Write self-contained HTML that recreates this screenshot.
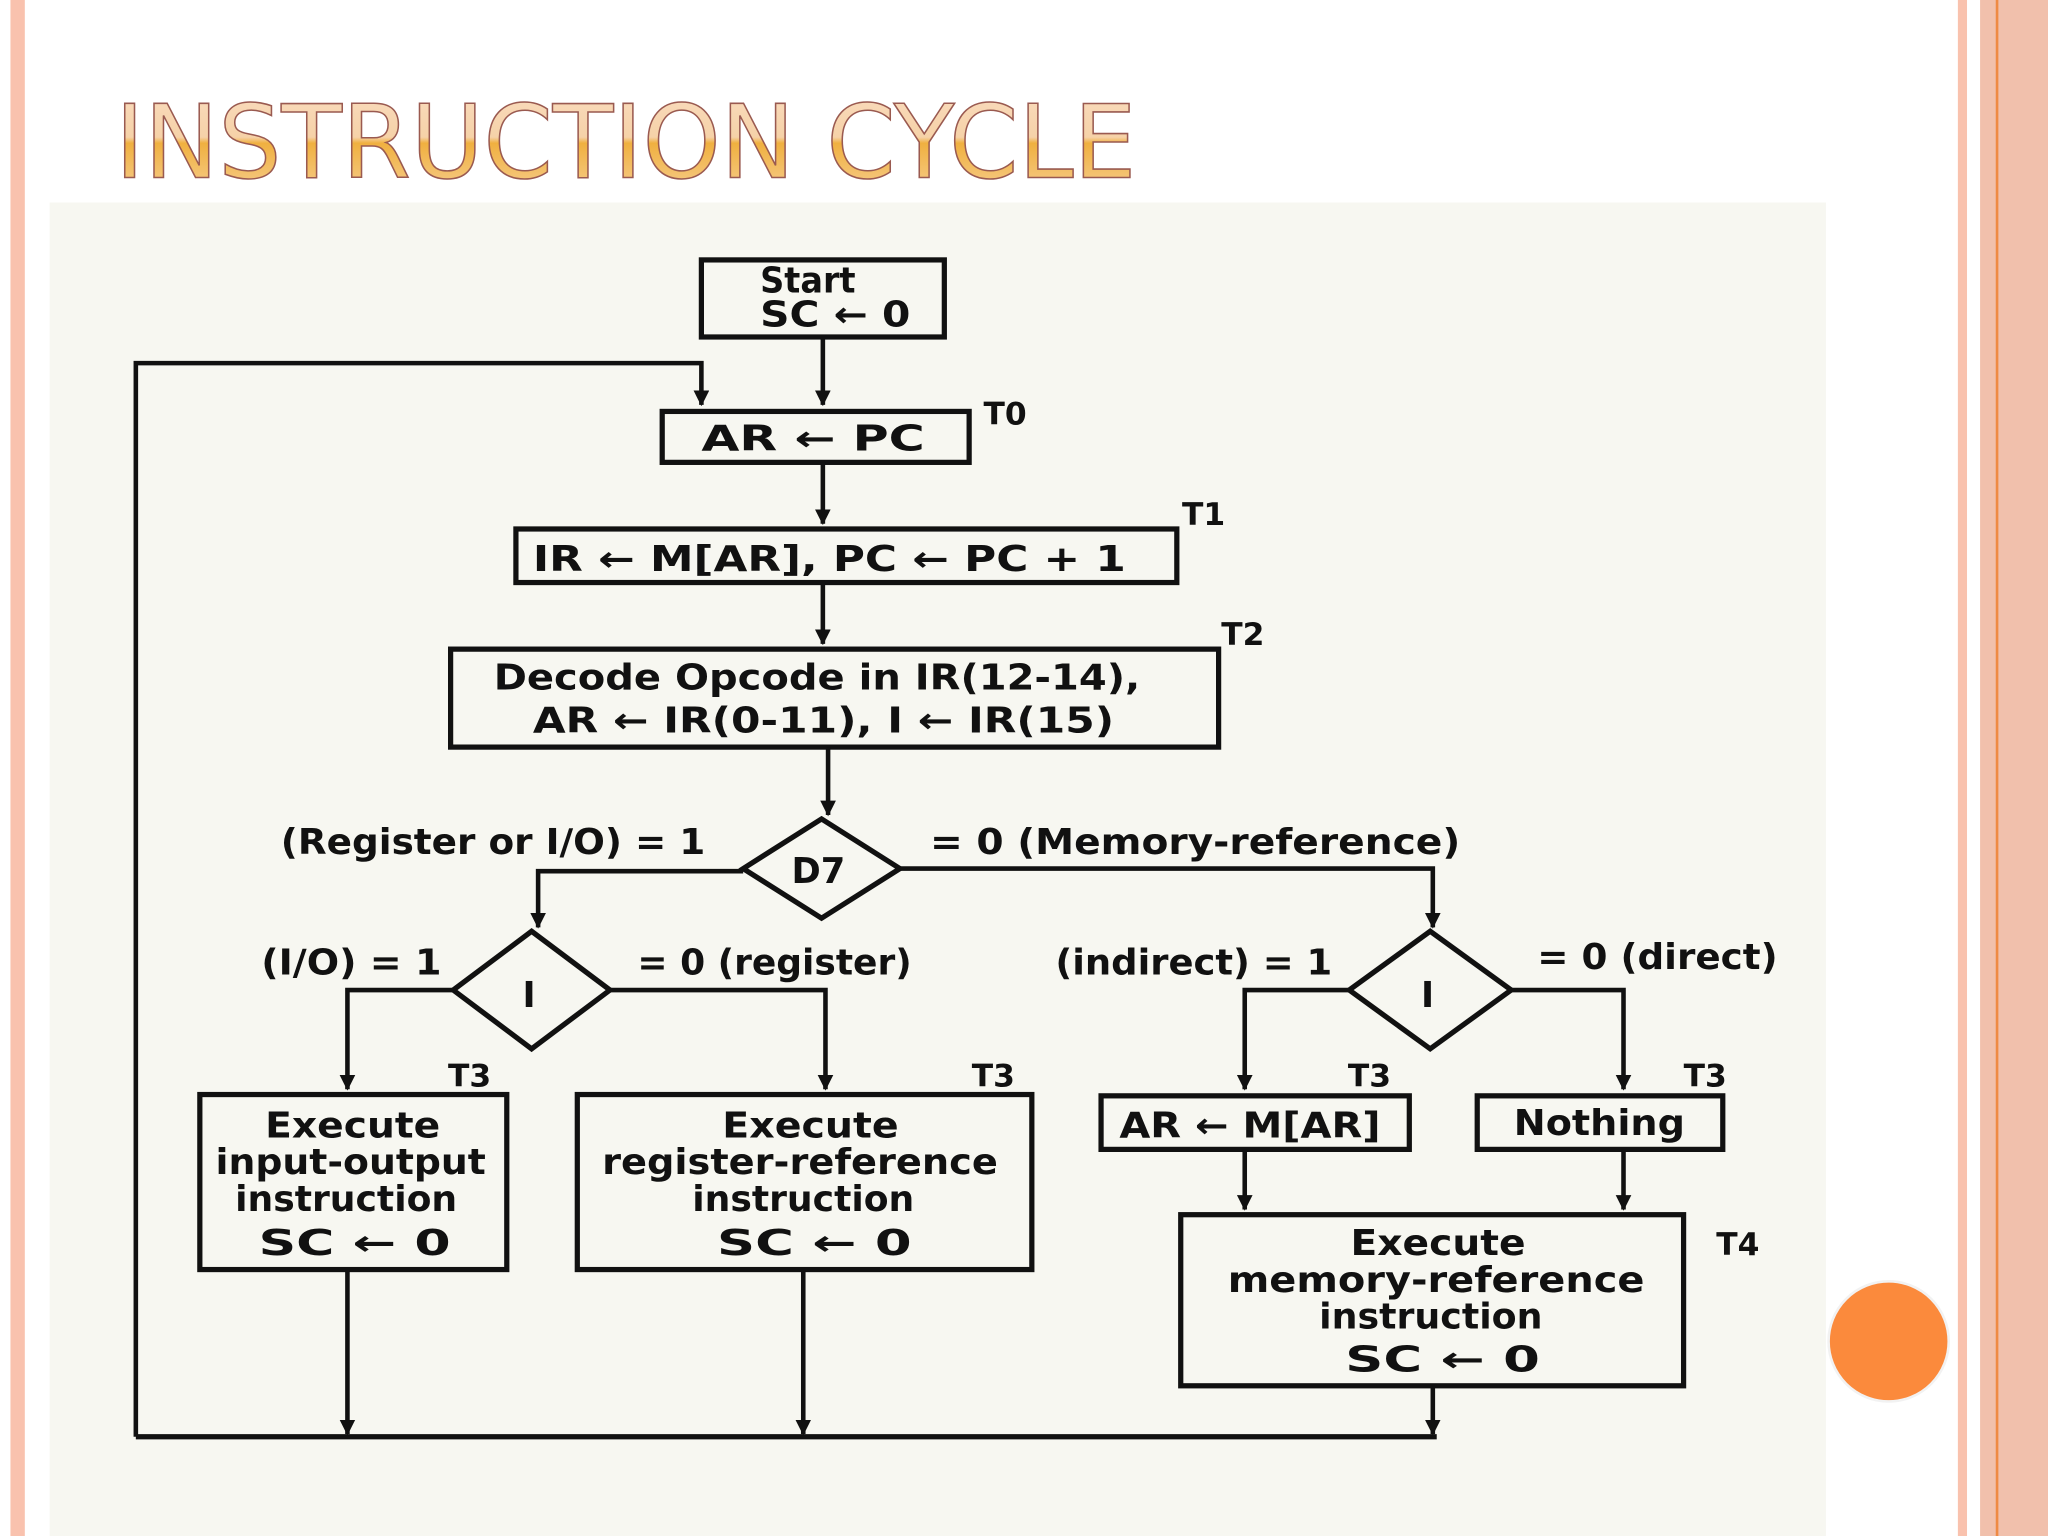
<!DOCTYPE html>
<html><head><meta charset="utf-8"><style>
html,body{margin:0;padding:0;background:#fff;}
svg{display:block;}
text{font-family:"DejaVu Sans","Liberation Sans",sans-serif;fill:#111;}
.b text{font-weight:bold;}
</style></head><body>
<svg width="2048" height="1536" viewBox="0 0 1568 1176" xmlns="http://www.w3.org/2000/svg">
<defs>
<linearGradient id="tg" x1="0" y1="0" x2="0" y2="1">
<stop offset="0" stop-color="#f9dcc0"/><stop offset="0.45" stop-color="#f6d2a8"/><stop offset="0.5" stop-color="#f0b040"/><stop offset="1" stop-color="#f7d29a"/>
</linearGradient>
<marker id="ar" markerWidth="12" markerHeight="12" refX="11" refY="6" orient="auto" markerUnits="userSpaceOnUse"><path d="M0,0 L12,6 L0,12 Z" fill="#111"/></marker>
</defs>
<rect width="1568" height="1176" fill="#fff"/>
<rect x="8" y="0" width="11" height="1176" fill="#f9c2ae"/>
<rect x="1499" y="0" width="7" height="1176" fill="#f9c2ae"/>
<rect x="1516" y="0" width="52" height="1176" fill="#f1c0ac"/>
<rect x="1528" y="0" width="2" height="1176" fill="#ef8a44"/>
<text x="88" y="136" font-size="78" textLength="782" lengthAdjust="spacingAndGlyphs" font-family="'Liberation Sans',sans-serif" stroke="#9a5a50" stroke-width="1.2" style="fill:url(#tg)">INSTRUCTION CYCLE</text>
<rect x="38" y="155" width="1360" height="1021" fill="#f7f7f1"/>
<g stroke="#111" stroke-width="4" fill="none">
<rect x="537" y="199" width="186" height="59"/>
<rect x="507" y="315" width="235" height="39"/>
<rect x="395" y="405" width="506" height="41"/>
<rect x="345" y="497" width="588" height="75"/>
<polygon points="629,627 689,665 629,703 569,665"/>
<polygon points="407,713 467,758 407,803 347,758"/>
<polygon points="1095,713 1157,758 1095,803 1033,758"/>
<rect x="153" y="838" width="235" height="134"/>
<rect x="442" y="838" width="348" height="134"/>
<rect x="843" y="839" width="236" height="41"/>
<rect x="1131" y="839" width="188" height="41"/>
<rect x="904" y="930" width="385" height="131"/>
</g>
<g stroke="#111" stroke-width="3.5" fill="none" marker-end="url(#ar)">
<line x1="630" y1="258" x2="630" y2="310"/>
<polyline points="104,1100 104,278 537,278 537,310"/>
<line x1="630" y1="354" x2="630" y2="401"/>
<line x1="630" y1="446" x2="630" y2="493"/>
<line x1="634" y1="572" x2="634" y2="624"/>
<polyline points="569,667 412,667 412,710"/>
<polyline points="689,665 1097,665 1097,710"/>
<polyline points="347,758 266,758 266,834"/>
<polyline points="467,758 632,758 632,834"/>
<polyline points="1033,758 953,758 953,834"/>
<polyline points="1157,758 1243,758 1243,834"/>
<line x1="953" y1="880" x2="953" y2="926"/>
<line x1="1243" y1="880" x2="1243" y2="926"/>
<line x1="266" y1="972" x2="266" y2="1098"/>
<line x1="615" y1="972" x2="615" y2="1098"/>
<line x1="1097" y1="1061" x2="1097" y2="1098"/>
</g>
<line x1="104" y1="1100" x2="1100" y2="1100" stroke="#111" stroke-width="4"/>
<g class="b" font-size="27">
<text x="582" y="224" textLength="73" lengthAdjust="spacingAndGlyphs">Start</text>
<text x="582" y="250" textLength="115" lengthAdjust="spacingAndGlyphs">SC ← 0</text>
<text x="537" y="345" textLength="171" lengthAdjust="spacingAndGlyphs">AR  ←  PC</text>
<text x="753" y="325" font-size="24">T0</text>
<text x="408" y="437" textLength="454" lengthAdjust="spacingAndGlyphs">IR  ←  M[AR],  PC ← PC + 1</text>
<text x="905" y="402" font-size="24">T1</text>
<text x="378" y="528" textLength="495" lengthAdjust="spacingAndGlyphs">Decode Opcode in IR(12-14),</text>
<text x="408" y="561" textLength="445" lengthAdjust="spacingAndGlyphs">AR ← IR(0-11),    I ← IR(15)</text>
<text x="935" y="494" font-size="24">T2</text>
<text x="606" y="676">D7</text>
<text x="215" y="654" textLength="325" lengthAdjust="spacingAndGlyphs">(Register or I/O) = 1</text>
<text x="712" y="654" textLength="406" lengthAdjust="spacingAndGlyphs">= 0 (Memory-reference)</text>
<text x="400" y="771">I</text>
<text x="1088" y="771">I</text>
<text x="200" y="746" textLength="138" lengthAdjust="spacingAndGlyphs">(I/O) = 1</text>
<text x="488" y="746" textLength="210" lengthAdjust="spacingAndGlyphs">= 0 (register)</text>
<text x="808" y="746" textLength="212" lengthAdjust="spacingAndGlyphs">(indirect) = 1</text>
<text x="1177" y="742" textLength="184" lengthAdjust="spacingAndGlyphs">= 0 (direct)</text>
<text x="343" y="832" font-size="24">T3</text>
<text x="744" y="832" font-size="24">T3</text>
<text x="1032" y="832" font-size="24">T3</text>
<text x="1289" y="832" font-size="24">T3</text>
<text x="1314" y="961" font-size="24">T4</text>
<text x="203" y="871" textLength="134" lengthAdjust="spacingAndGlyphs">Execute</text>
<text x="165" y="899" textLength="207" lengthAdjust="spacingAndGlyphs">input-output</text>
<text x="180" y="927" textLength="170" lengthAdjust="spacingAndGlyphs">instruction</text>
<text x="198" y="961" textLength="147" lengthAdjust="spacingAndGlyphs">SC  ←   0</text>
<text x="553" y="871" textLength="135" lengthAdjust="spacingAndGlyphs">Execute</text>
<text x="461" y="899" textLength="303" lengthAdjust="spacingAndGlyphs">register-reference</text>
<text x="530" y="927" textLength="170" lengthAdjust="spacingAndGlyphs">instruction</text>
<text x="549" y="961" textLength="149" lengthAdjust="spacingAndGlyphs">SC  ←   0</text>
<text x="857" y="871" textLength="200" lengthAdjust="spacingAndGlyphs">AR ← M[AR]</text>
<text x="1159" y="869" textLength="131" lengthAdjust="spacingAndGlyphs">Nothing</text>
<text x="1034" y="961" textLength="134" lengthAdjust="spacingAndGlyphs">Execute</text>
<text x="940" y="989" textLength="319" lengthAdjust="spacingAndGlyphs">memory-reference</text>
<text x="1010" y="1017" textLength="171" lengthAdjust="spacingAndGlyphs">instruction</text>
<text x="1030" y="1050" textLength="149" lengthAdjust="spacingAndGlyphs">SC  ←   0</text>
</g>
<circle cx="1446" cy="1027" r="46" fill="#fb8a3c" stroke="#f2f2f2" stroke-width="2"/>
</svg>
</body></html>
